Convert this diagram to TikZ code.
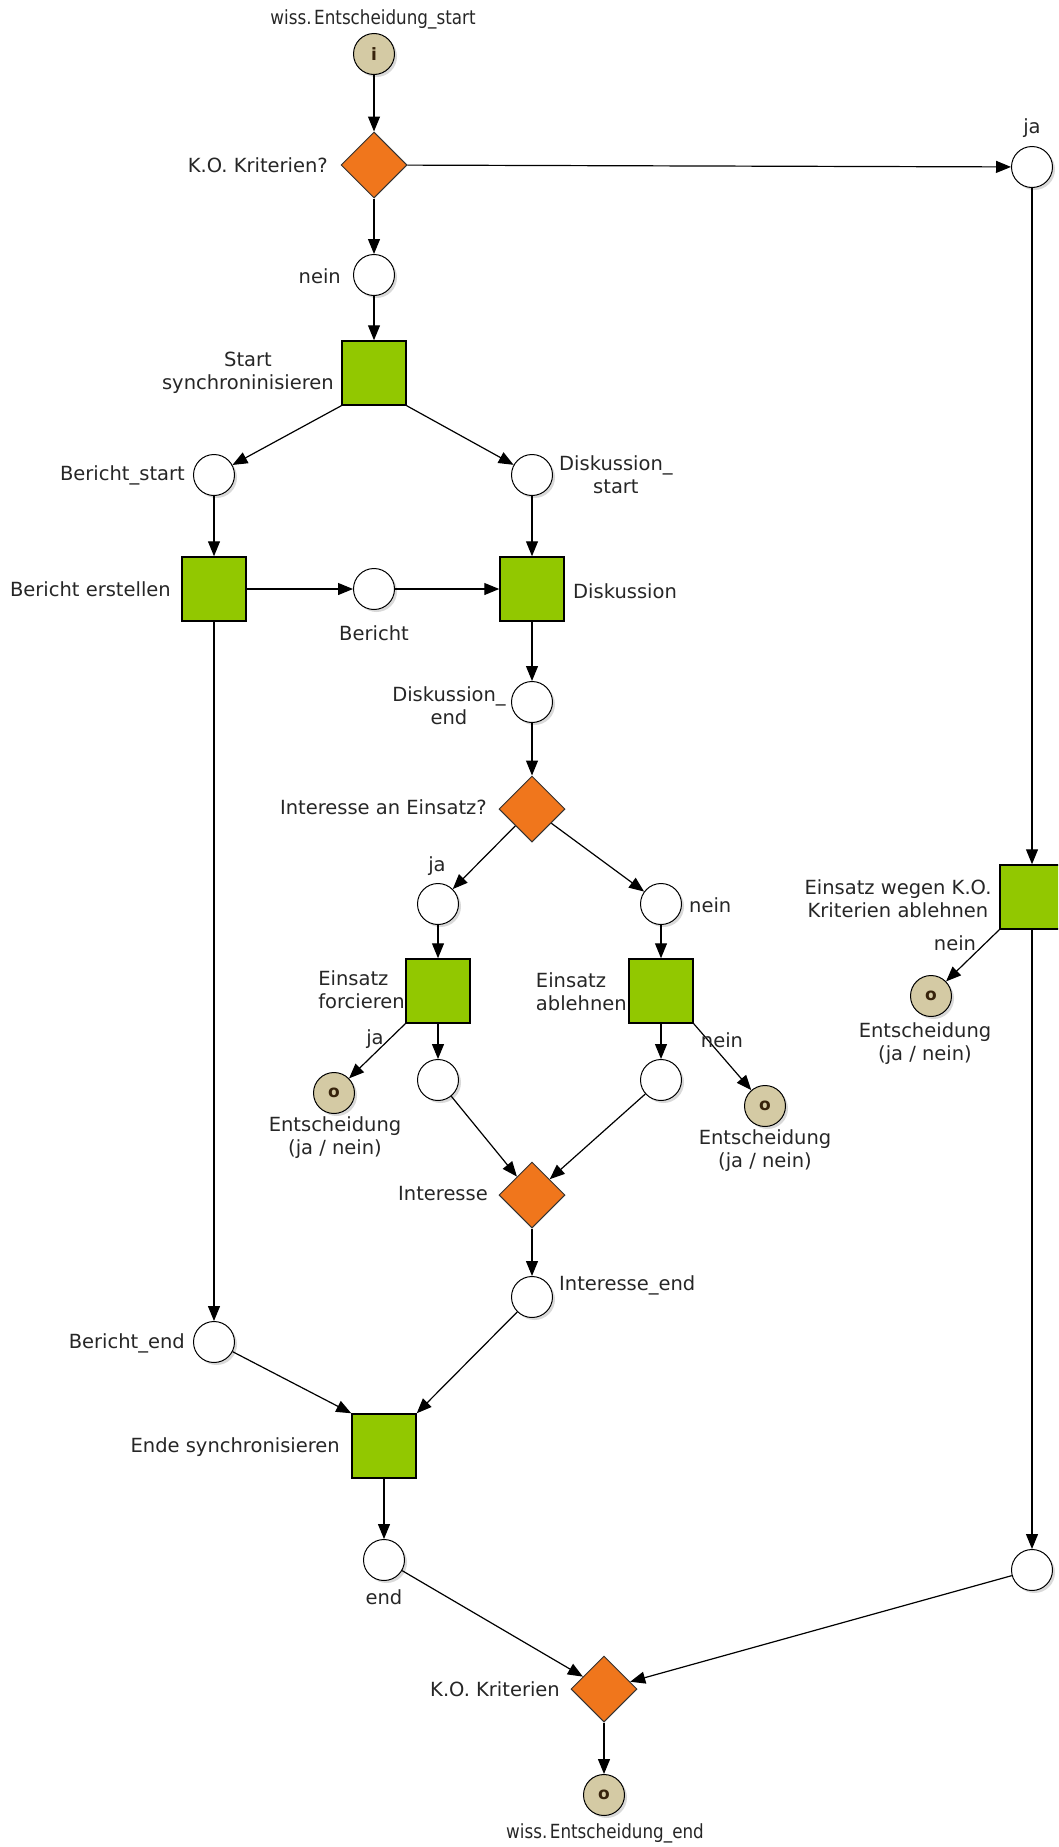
\documentclass[tikz,border=0pt]{standalone}
\usepackage{fontspec}
\usepackage{graphicx}
\setmainfont{DejaVu Sans}
\usetikzlibrary{shapes.geometric,arrows.meta,shadows}

\definecolor{transgreen}{RGB}{146,200,0}
\definecolor{gateorange}{RGB}{240,118,28}
\definecolor{tokenbeige}{RGB}{212,202,164}
\definecolor{tokenmark}{RGB}{55,35,12}

\tikzset{
  netplace/.style={circle, draw=black, line width=1pt, fill=white, minimum size=41pt, inner sep=0pt,
    drop shadow={shadow xshift=2.5pt, shadow yshift=-2.5pt, fill=black, opacity=0.15}},
  tokenplace/.style={netplace, fill=tokenbeige, text=tokenmark,
    font=\fontsize{17}{17}\selectfont\bfseries},
  transbox/.style={rectangle, draw=black, line width=1.5pt, fill=transgreen, minimum size=64pt, inner sep=0pt},
  gatebox/.style={diamond, draw=black!80, line width=1pt, fill=gateorange,
    minimum width=66pt, minimum height=66pt, inner sep=0pt},
  lbl/.style={font=\fontsize{19.5}{23}\selectfont, inner sep=0pt, text=black!85},
  flow/.style={line width=1.2pt, -{Triangle[length=15pt,width=12pt]}},
}

\begin{document}
\begin{tikzpicture}[x=1pt,y=-1pt]
\useasboundingbox (0,0) rectangle (1058,1847);
\clip (0,0) rectangle (1058,1847);

% main column: start, first decision, synchronisation
\node[tokenplace] (start) at (374,54) {i};
\node[gatebox] (ko1) at (374,165) {};
\node[netplace] (nein1) at (374,275) {};
\node[transbox] (ss) at (374,373) {};

% right branch: K.O. criteria met
\node[netplace] (ja1) at (1032,167) {};
\node[transbox] (ew) at (1032,897) {};
\node[tokenplace] (o3) at (931,996) {o};
\node[netplace] (rb) at (1032,1570) {};

% report and discussion
\node[netplace] (bs) at (214,475) {};
\node[netplace] (dst) at (532,475) {};
\node[transbox] (be) at (214,589) {};
\node[netplace] (ber) at (374,589) {};
\node[transbox] (dis) at (532,589) {};
\node[netplace] (den) at (532,702) {};
\node[gatebox] (int1) at (532,809) {};

% interest decision
\node[netplace] (ja2) at (438,904) {};
\node[netplace] (nein2) at (661,904) {};
\node[transbox] (ef) at (438,991) {};
\node[transbox] (ea) at (661,991) {};
\node[tokenplace] (o1) at (334,1093) {o};
\node[netplace] (c1) at (438,1080) {};
\node[netplace] (c2) at (661,1080) {};
\node[tokenplace] (o2) at (765,1106) {o};
\node[gatebox] (int2) at (532,1195) {};
\node[netplace] (iend) at (532,1297) {};

% end synchronisation and final decision
\node[netplace] (bend) at (214,1342) {};
\node[transbox] (es) at (384,1446) {};
\node[netplace] (endp) at (384,1560) {};
\node[gatebox] (ko2) at (604,1689) {};
\node[tokenplace] (fin) at (604,1795) {o};

% connectors
\draw[flow] (start) -- (ko1);
\draw[flow] (ko1) -- (nein1);
\draw[flow] (ko1) -- (ja1);
\draw[flow] (nein1) -- (ss);
\draw[flow] (ss.south west) -- (bs);
\draw[flow] (ss.south east) -- (dst);
\draw[flow] (bs) -- (be);
\draw[flow] (dst) -- (dis);
\draw[flow] (be) -- (ber);
\draw[flow] (ber) -- (dis);
\draw[flow] (be) -- (bend);
\draw[flow] (dis) -- (den);
\draw[flow] (den) -- (int1);
\draw[flow] (int1) -- (ja2);
\draw[flow] (int1) -- (nein2);
\draw[flow] (ja2) -- (ef);
\draw[flow] (nein2) -- (ea);
\draw[flow] (ef.south west) -- (o1);
\draw[flow] (ef) -- (c1);
\draw[flow] (ea) -- (c2);
\draw[flow] (ea.south east) -- (o2);
\draw[flow] (c1) -- (int2);
\draw[flow] (c2) -- (int2);
\draw[flow] (int2) -- (iend);
\draw[flow] (iend) -- (es.north east);
\draw[flow] (bend) -- (es.north west);
\draw[flow] (es) -- (endp);
\draw[flow] (endp) -- (ko2);
\draw[flow] (rb) -- (ko2);
\draw[flow] (ko2) -- (fin);
\draw[flow] (ja1) -- (ew);
\draw[flow] (ew) -- (rb);
\draw[flow] (ew.south west) -- (o3);

% labels
\node[lbl] (t1) at (373,19) {\scalebox{0.86}[1]{wiss.\kern3pt Entscheidung\_start}};
\node[lbl, anchor=east] (t2) at (328,165) {K.O. Kriterien?};
\node[lbl, anchor=east] (t3) at (341,276) {nein};
\node[lbl] (t4) at (1032,128) {ja};
\node[lbl, anchor=east, align=center] (t5) at (334,373) {Start\\synchroninisieren};
\node[lbl, anchor=east] (t6) at (185,475) {Bericht\_start};
\node[lbl, anchor=west, align=center] (t7) at (559,475) {Diskussion\_\\start};
\node[lbl, anchor=east] (t8) at (171,589) {Bericht erstellen};
\node[lbl] (t9) at (374,633) {Bericht};
\node[lbl, anchor=west] (t10) at (573,591) {Diskussion};
\node[lbl, align=center] (t11) at (449,706) {Diskussion\_\\end};
\node[lbl, anchor=east] (t12) at (487,807) {Interesse an Einsatz?};
\node[lbl] (t13) at (437,866) {ja};
\node[lbl, anchor=west] (t14) at (689,905) {nein};
\node[lbl, anchor=east, align=left] (t15) at (405,990) {Einsatz\\forcieren};
\node[lbl, anchor=east, align=left] (t16) at (627,992) {Einsatz\\ablehnen};
\node[lbl] (t17) at (375,1039) {ja};
\node[lbl] (t18) at (722,1040) {nein};
\node[lbl, align=center] (t19) at (335,1138) {Entscheidung\\(ja / nein)};
\node[lbl, align=center] (t20) at (765,1151) {Entscheidung\\(ja / nein)};
\node[lbl, anchor=east] (t21) at (488,1194) {Interesse};
\node[lbl, anchor=west] (t22) at (559,1285) {Interesse\_end};
\node[lbl, anchor=east] (t23) at (185,1343) {Bericht\_end};
\node[lbl, anchor=east] (t24) at (340,1447) {Ende synchronisieren};
\node[lbl] (t25) at (384,1597) {end};
\node[lbl, anchor=east] (t26) at (560,1689) {K.O. Kriterien};
\node[lbl] (t27) at (605,1833) {\scalebox{0.86}[1]{wiss.\kern3pt Entscheidung\_end}};
\node[lbl, align=center] (t28) at (898,899) {Einsatz wegen K.O.\\Kriterien ablehnen};
\node[lbl] (t29) at (955,943) {nein};
\node[lbl, align=center] (t30) at (925,1044) {Entscheidung\\(ja / nein)};
\end{tikzpicture}
\end{document}
